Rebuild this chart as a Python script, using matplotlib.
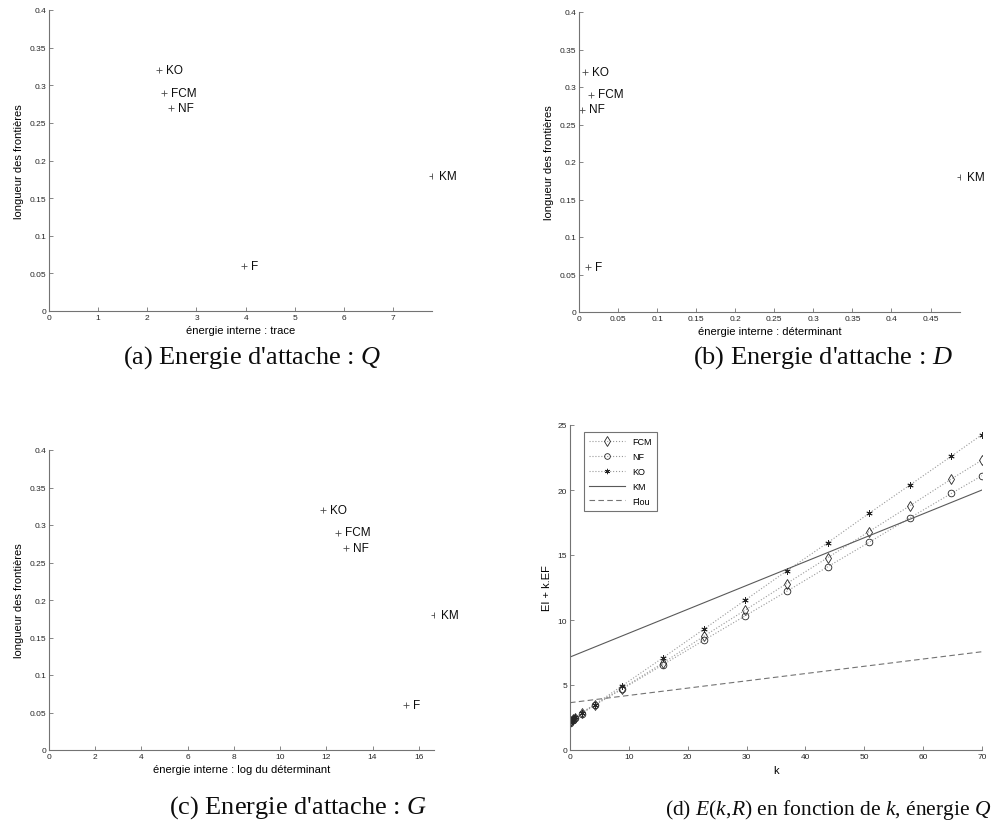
import numpy as np
import matplotlib
matplotlib.use("Agg")
import matplotlib.pyplot as plt
from matplotlib.ticker import FuncFormatter

plt.rcParams['font.family'] = ['Liberation Sans', 'DejaVu Sans']
plt.rcParams['mathtext.fontset'] = 'custom'
plt.rcParams['mathtext.rm'] = 'Liberation Serif'
plt.rcParams['mathtext.it'] = 'Liberation Serif:italic'

# scatter panels (a), (b), (c)
methods = ["KO", "FCM", "NF", "F", "KM"]
trace_energy = [2.24, 2.33, 2.48, 3.96, 7.79]
det_energy = [0.008, 0.016, 0.0035, 0.012, 0.4877]
logdet_energy = [11.86, 12.49, 12.87, 15.46, 16.66]
boundary_len = [0.32, 0.29, 0.27, 0.06, 0.18]

# panel (d): EI + k.EF as a function of k
k_vals = [0, 0.2, 0.5, 0.9, 2.0, 4.2, 8.8, 15.8, 22.8, 29.8, 36.8, 43.8, 50.8, 57.8, 64.8, 70]
fcm_vals = [2.15, 2.25, 2.35, 2.5, 2.87, 3.49, 4.72, 6.7, 8.77, 10.77, 12.8, 14.8, 16.8, 18.8, 20.85, 22.3]
nf_vals = [2.1, 2.2, 2.3, 2.45, 2.8, 3.45, 4.67, 6.56, 8.46, 10.33, 12.2, 14.1, 15.97, 17.87, 19.74, 21.1]
ko_vals = [2.2, 2.3, 2.4, 2.55, 2.87, 3.5, 4.92, 7.1, 9.31, 11.54, 13.77, 15.95, 18.2, 20.4, 22.6, 24.26]
line_k = [0, 70]
km_vals = [7.15, 20.0]
flou_vals = [3.64, 7.56]

W, H = 994, 829
fig = plt.figure(figsize=(W / 100, H / 100), dpi=100)


def px_axes(l, t, r, b):
    return fig.add_axes([l / W, 1 - b / H, (r - l) / W, (b - t) / H])


def style(ax):
    for s in ['top', 'right']:
        ax.spines[s].set_visible(False)
    for s in ['left', 'bottom']:
        ax.spines[s].set_color('0.45')
        ax.spines[s].set_linewidth(0.8)
    ax.tick_params(direction='in', length=3, width=0.6, color='0.45',
                   labelsize=6, labelcolor='0.15', pad=2)
    ax.xaxis.set_major_formatter(FuncFormatter(lambda v, p: f"{v:g}"))
    ax.yaxis.set_major_formatter(FuncFormatter(lambda v, p: f"{v:g}"))


def scatter_panel(ax, x, xlabel, xticks):
    ax.plot(x, boundary_len, linestyle='none', marker='+', color='0.3',
            markersize=5, markeredgewidth=0.6)
    for xi, yi, name in zip(x, boundary_len, methods):
        ax.annotate(name, (xi, yi), xytext=(5, 0), textcoords='offset points',
                    va='center', ha='left', fontsize=8.5, color='0.05')
    ax.set_xlim(0, max(x))
    ax.set_ylim(0, 0.4)
    ax.set_xticks(xticks)
    ax.set_yticks(np.arange(0, 0.41, 0.05))
    ax.set_xlabel(xlabel, fontsize=8, labelpad=3)
    ax.set_ylabel("longueur des frontières", fontsize=8, labelpad=4)
    style(ax)


ax_a = px_axes(49, 11, 432, 312)
scatter_panel(ax_a, trace_energy, "énergie interne : trace", np.arange(0, 8, 1))

ax_b = px_axes(579, 13, 960, 313)
scatter_panel(ax_b, det_energy, "énergie interne : déterminant", np.arange(0, 0.46, 0.05))

ax_c = px_axes(49, 451, 434, 751)
scatter_panel(ax_c, logdet_energy, "énergie interne : log du déterminant", np.arange(0, 17, 2))

ax_d = px_axes(570, 426, 982, 751)
dot = dict(linestyle=':', color='0.6', linewidth=0.8, markeredgecolor='0.15',
           markerfacecolor='none', markeredgewidth=0.6)
ax_d.plot(k_vals, fcm_vals, marker='d', markersize=5.5, label='FCM', **dot)
ax_d.plot(k_vals, nf_vals, marker='o', markersize=4.8, label='NF', **dot)
ax_d.plot(k_vals, ko_vals, marker=(6, 2, 0), markersize=4.5, label='KO', **dot)
ax_d.plot(line_k, km_vals, '-', color='0.35', linewidth=0.8, label='KM')
ax_d.plot(line_k, flou_vals, '--', color='0.45', linewidth=0.8, dashes=(5, 3), label='Flou')
ax_d.set_xlim(0, 70)
ax_d.set_ylim(0, 25)
ax_d.set_xticks(np.arange(0, 71, 10))
ax_d.set_yticks(np.arange(0, 26, 5))
ax_d.set_xlabel("k", fontsize=8, labelpad=4)
ax_d.set_ylabel("EI + k.EF", fontsize=8, labelpad=4)
style(ax_d)
leg = ax_d.legend(loc='upper left', bbox_to_anchor=(0.034, 0.978), borderaxespad=0,
                  fontsize=6.5, handlelength=4, fancybox=False, framealpha=1,
                  edgecolor='0.45', labelspacing=0.65, borderpad=0.55, markerscale=0.85)
leg.get_frame().set_linewidth(0.8)

cap = dict(va='center', family='Liberation Serif', color='0.05')
fig.text(252 / W, 1 - 358 / H, "(a) Energie d'attache : $Q$", ha='center', fontsize=19, **cap)
fig.text(823 / W, 1 - 358 / H, "(b) Energie d'attache : $D$", ha='center', fontsize=19, **cap)
fig.text(298 / W, 1 - 808 / H, "(c) Energie d'attache : $G$", ha='center', fontsize=19, **cap)
fig.text(991 / W, 1 - 810 / H, "(d) $E(k,\\!R)$ en fonction de $k$, énergie $Q$",
         ha='right', fontsize=15.5, **cap)

fig.savefig("out.png", dpi=100)
